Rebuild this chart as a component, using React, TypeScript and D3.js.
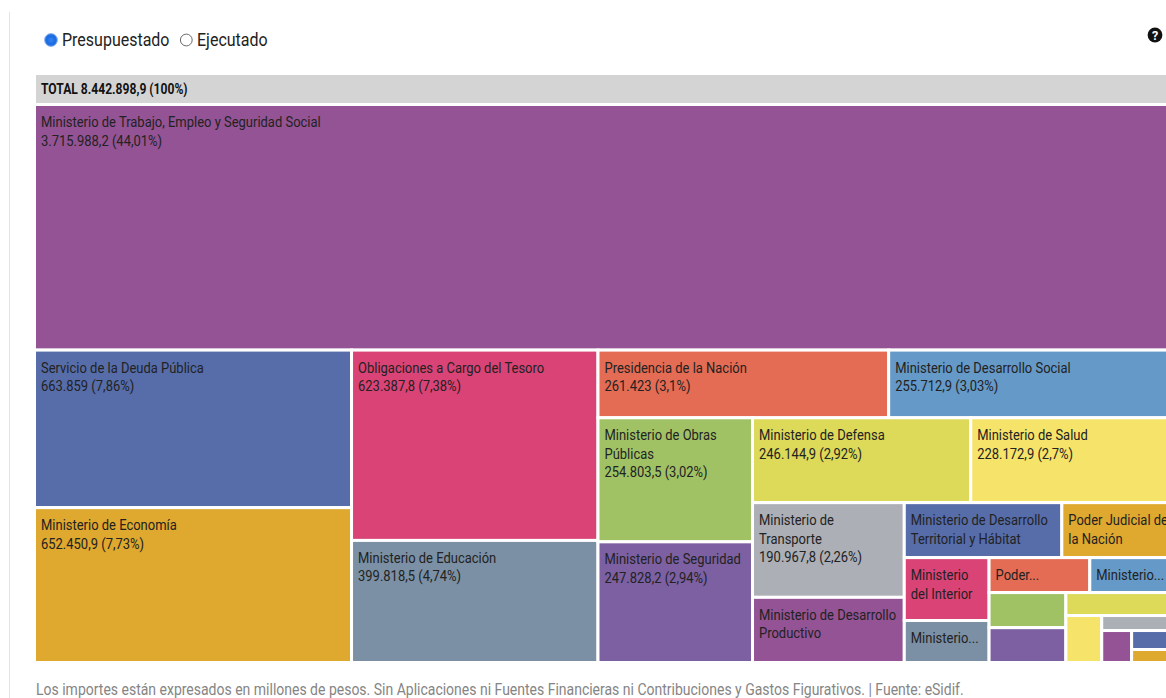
import React from 'react';
import * as d3 from 'd3';

// ---------- data ----------
const jurisdictions = [
  'Ministerio de Trabajo, Empleo y Seguridad Social',
  'Servicio de la Deuda Pública',
  'Ministerio de Economía',
  'Obligaciones a Cargo del Tesoro',
  'Ministerio de Educación',
  'Presidencia de la Nación',
  'Ministerio de Desarrollo Social',
  'Ministerio de Obras Públicas',
  'Ministerio de Seguridad',
  'Ministerio de Defensa',
  'Ministerio de Salud',
  'Ministerio de Transporte',
  'Ministerio de Desarrollo Productivo',
  'Ministerio de Desarrollo Territorial y Hábitat',
  'Poder Judicial de la Nación',
  'Ministerio del Interior',
  'Ministerio de Ciencia, Tecnología e Innovación',
  'Poder Legislativo Nacional',
  'Ministerio de Justicia y Derechos Humanos',
  'Ministerio Público',
  'Ministerio de Agricultura, Ganadería y Pesca',
  'Jefatura de Gabinete de Ministros',
  'Ministerio de Relaciones Exteriores, Comercio Internacional y Culto',
  'Ministerio de Cultura',
  'Ministerio de Ambiente y Desarrollo Sostenible',
  'Ministerio de Turismo y Deportes',
  'Ministerio de las Mujeres, Géneros y Diversidad',
];

const amounts = [
  3715988.2, 663859, 652450.9, 623387.8, 399818.5, 261423, 255712.9, 254803.5,
  247828.2, 246144.9, 228172.9, 190967.8, 131456.3, 115120.4, 81230.7, 70874.2,
  47310.5, 46780.9, 38650.1, 35820.4, 35540.8, 32710.6, 22380.3, 14190.2,
  12700.5, 10430.8, 7144.6,
];

const palette = [
  '#945394', '#566daa', '#dfa82e', '#da4376', '#7b90a4', '#e46c54',
  '#6599c7', '#a0c265', '#7c60a2', '#ddd959', '#f6e36a', '#adafb6',
];

const radioOptions = ['Presupuestado', 'Ejecutado'];
const footerText =
  'Los importes están expresados en millones de pesos. Sin Aplicaciones ni Fuentes Financieras ni Contribuciones y Gastos Figurativos. | Fuente: eSidif.';

// ---------- helpers ----------
const FONT = 'Roboto, "Noto Sans", sans-serif';
const SX = 0.865; // narrow (condensed-looking) text
const LABEL_SIZE = 15;
const LINE_H = 18.5;
const FIRST_BASE = 21;
const PAD = 5;

const locale = d3.formatLocale({ decimal: ',', thousands: '.', grouping: [3], currency: ['$', ''] });
const fmtVal = locale.format(',.1~f');
const fmtPct = locale.format('.2~f');

// squarified tiling (same scheme as d3's squarify, with a free aspect target)
function squarifyTile(ratio: number) {
  return (parent: any, x0: number, y0: number, x1: number, y1: number) => {
    const nodes = parent.children;
    const n = nodes.length;
    let i0 = 0;
    let i1 = 0;
    let value = parent.value;
    while (i0 < n) {
      const dx = x1 - x0;
      const dy = y1 - y0;
      let sumValue = 0;
      do sumValue = nodes[i1++].value; while (!sumValue && i1 < n);
      let minValue = sumValue;
      let maxValue = sumValue;
      const alpha = Math.max(dy / dx, dx / dy) / (value * ratio);
      let beta = sumValue * sumValue * alpha;
      let minRatio = Math.max(maxValue / beta, beta / minValue);
      for (; i1 < n; ++i1) {
        const nodeValue = nodes[i1].value;
        sumValue += nodeValue;
        if (nodeValue < minValue) minValue = nodeValue;
        if (nodeValue > maxValue) maxValue = nodeValue;
        beta = sumValue * sumValue * alpha;
        const newRatio = Math.max(maxValue / beta, beta / minValue);
        if (newRatio > minRatio) {
          sumValue -= nodeValue;
          break;
        }
        minRatio = newRatio;
      }
      const row: any = { value: sumValue, children: nodes.slice(i0, i1) };
      if (dx < dy) d3.treemapDice(row, x0, y0, x1, value ? (y0 += (dy * sumValue) / value) : y1);
      else d3.treemapSlice(row, x0, y0, value ? (x0 += (dx * sumValue) / value) : x1, y1);
      value -= sumValue;
      i0 = i1;
    }
  };
}

let ctx: CanvasRenderingContext2D | null = null;
function measure(text: string, size: number) {
  if (!ctx) ctx = document.createElement('canvas').getContext('2d');
  if (!ctx) return text.length * 6.5;
  ctx.font = `${size}px Roboto`;
  return ctx.measureText(text).width * SX;
}

function labelLines(name: string, valueText: string, w: number, h: number): string[] {
  const m = (t: string) => measure(t, LABEL_SIZE);
  const avail = w - 8;
  const maxLines = Math.floor((h - 8) / LINE_H);
  if (maxLines < 1 || avail <= 0) return [];
  const words = name.split(' ');
  const lines: string[] = [];
  let cur = '';
  for (const word of words) {
    const t = cur ? cur + ' ' + word : word;
    if (!cur || m(t) <= avail) cur = t;
    else {
      lines.push(cur);
      cur = word;
    }
  }
  if (cur) lines.push(cur);
  const allFit = lines.every((l) => m(l) <= avail);
  if (allFit && lines.length <= maxLines) {
    if (lines.length + 1 <= maxLines && m(valueText) <= avail) lines.push(valueText);
    return lines;
  }
  const out: string[] = [];
  const last = Math.min(maxLines, lines.length) - 1;
  for (let i = 0; i <= last; i++) {
    if (i < last && m(lines[i]) <= avail) {
      out.push(lines[i]);
      continue;
    }
    let ws = lines[i].split(' ');
    while (ws.length && m(ws.join(' ') + '...') > avail) ws = ws.slice(0, -1);
    if (ws.length) out.push(ws.join(' ') + '...');
    break;
  }
  return out;
}

function NarrowText(props: { x: number; y: number; size: number; fill: string; weight?: string; children: any }) {
  return (
    <text
      transform={`translate(${props.x},${props.y}) scale(${SX},1)`}
      fontSize={props.size}
      fontWeight={props.weight}
      fill={props.fill}
    >
      {props.children}
    </text>
  );
}

// ---------- component ----------
export default function App() {
  const W = 1166;
  const H = 698;
  const data = jurisdictions.map((name, i) => ({ name, value: amounts[i] }));
  const total = d3.sum(amounts);

  const root = d3
    .hierarchy<any>({ name: 'TOTAL', children: data })
    .sum((d: any) => d.value ?? 0)
    .sort((a, b) => (b.value ?? 0) - (a.value ?? 0));
  d3.treemap<any>().size([0.95, 1]).tile(squarifyTile(0.7) as any)(root);

  const xs = d3.scaleLinear().domain([0, 0.95]).range([34.5, 1173]);
  const ys = d3.scaleLinear().domain([0, 1]).range([104.5, 662.5]);
  const color = d3.scaleOrdinal<string, string>().domain(jurisdictions).range(palette);

  const leaves = root.leaves() as any[];

  return (
    <svg
      width={W}
      height={H}
      style={{ position: 'absolute', left: 0, top: 0, display: 'block', background: '#fff' }}
      fontFamily={FONT}
    >
      <line x1={9.5} x2={9.5} y1={12} y2={H} stroke="#e3e3e3" strokeWidth={1} />

      {/* radio buttons */}
      <g>
        <circle cx={51} cy={40} r={6.4} fill="#1d6fe3" stroke="#93b6ef" strokeWidth={1} />
        <circle cx={51} cy={40} r={2.6} fill="#2f7cf0" />
        <NarrowText x={62} y={46} size={18.5} fill="#222">{radioOptions[0]}</NarrowText>
        <circle cx={186.3} cy={40} r={5.9} fill="#fff" stroke="#6b6b6b" strokeWidth={1} />
        <NarrowText x={197} y={46} size={18.5} fill="#222">{radioOptions[1]}</NarrowText>
      </g>

      {/* help icon */}
      <g>
        <circle cx={1155} cy={35} r={7.4} fill="#111" />
        <text x={1155} y={39.5} fontSize={12.5} fontWeight="bold" fill="#fff" textAnchor="middle">?</text>
      </g>

      {/* header */}
      <rect x={36} y={75} width={xs(0.95) - 1.5 - 36} height={28} fill="#d4d4d4" />
      <NarrowText x={41} y={93.5} size={14} weight="bold" fill="#111">
        {`TOTAL ${fmtVal(total)} (100%)`}
      </NarrowText>

      <defs>
        {leaves.map((d, i) => (
          <clipPath id={`cell-clip-${i}`} key={i}>
            <rect
              x={xs(d.x0) + 1.5}
              y={ys(d.y0) + 1.5}
              width={Math.max(0, xs(d.x1) - xs(d.x0) - 3)}
              height={Math.max(0, ys(d.y1) - ys(d.y0) - 3)}
            />
          </clipPath>
        ))}
      </defs>

      {leaves.map((d, i) => (
        <rect
          key={`r${i}`}
          x={xs(d.x0)}
          y={ys(d.y0)}
          width={xs(d.x1) - xs(d.x0)}
          height={ys(d.y1) - ys(d.y0)}
          fill={color(d.data.name)}
          stroke="#fff"
          strokeWidth={3}
        />
      ))}

      {leaves.map((d, i) => {
        const left = xs(d.x0) + 1.5;
        const top = ys(d.y0) + 1.5;
        const w = xs(d.x1) - xs(d.x0) - 3;
        const h = ys(d.y1) - ys(d.y0) - 3;
        const valueText = `${fmtVal(d.value)} (${fmtPct((d.value / total) * 100)}%)`;
        const lines = labelLines(d.data.name, valueText, w, h);
        return (
          <g key={`t${i}`} clipPath={`url(#cell-clip-${i})`}>
            {lines.map((l, j) => (
              <NarrowText key={j} x={left + PAD} y={top + FIRST_BASE + j * LINE_H} size={LABEL_SIZE} fill="#222">
                {l}
              </NarrowText>
            ))}
          </g>
        );
      })}

      <NarrowText x={36} y={694.5} size={16.2} fill="#858585">{footerText}</NarrowText>
    </svg>
  );
}
